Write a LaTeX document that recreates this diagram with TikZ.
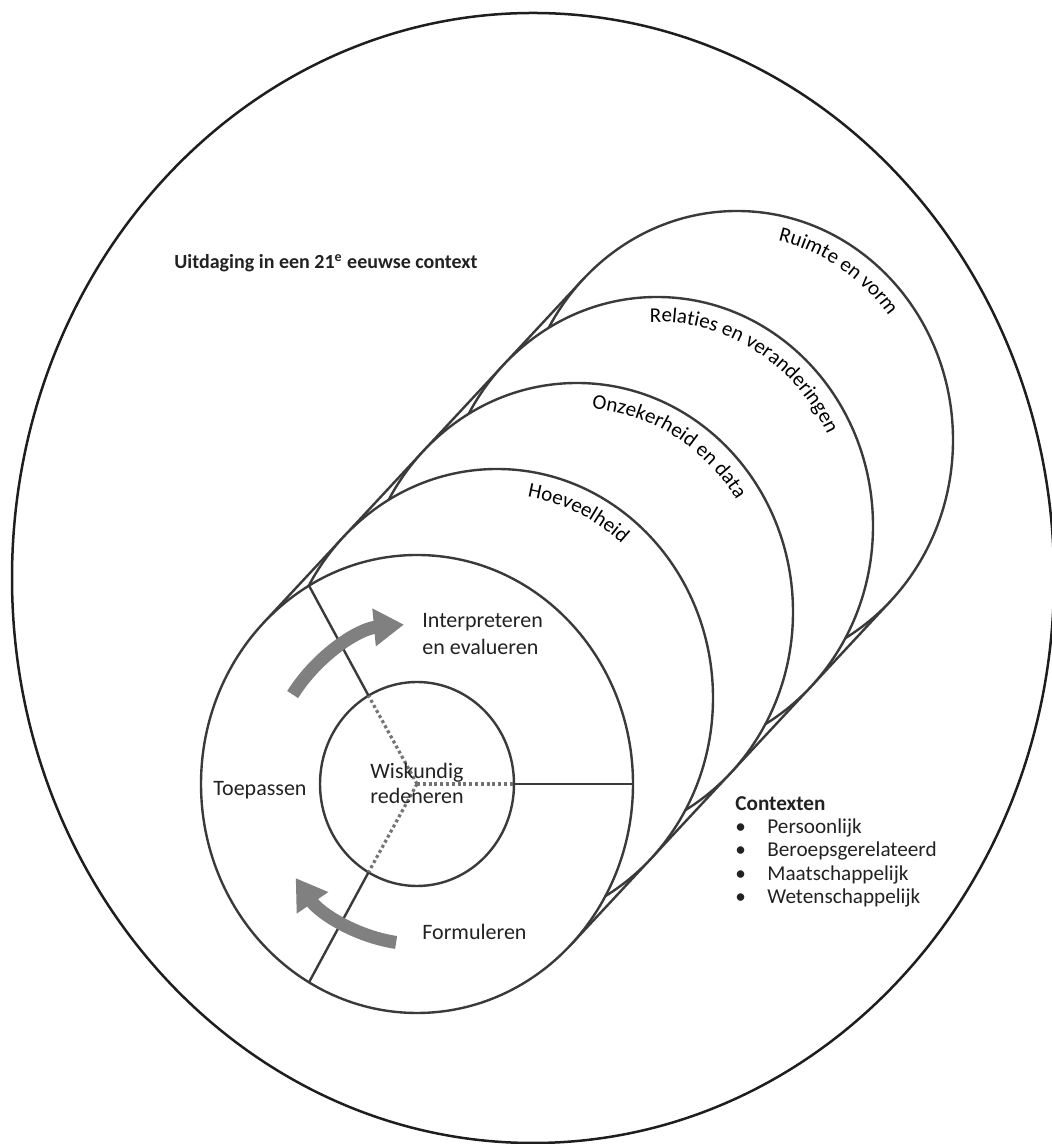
\documentclass[tikz,border=0pt]{standalone}
\usepackage{fontspec}
\setmainfont{Carlito}
\usetikzlibrary{arrows.meta,calc,decorations.text}
\definecolor{rimink}{HTML}{1E1E1E}
\definecolor{ringink}{HTML}{3A3A3A}
\definecolor{cyclegrey}{HTML}{808080}
\definecolor{labelink}{HTML}{222222}
\newcommand\curvefont{\fontsize{10.5}{12}\selectfont}
\newcommand\ctxitem{\makebox[16pt][l]{\textbullet}}

\begin{document}
\begin{tikzpicture}[x=0.5pt,y=0.5pt,
  rim/.style={draw=rimink,line width=1.25pt},
  disc/.style={draw=ringink,line width=1.2pt,fill=white},
  spoke/.style={draw=ringink,line width=1.2pt},
  guide/.style={draw=cyclegrey!90!black,line width=1.6pt,dash pattern=on 1.5pt off 1.4pt},
  turnarrow/.style={draw=cyclegrey,line width=6.5pt,-{Triangle[width=18pt,length=15pt]}},
  headline/.style={font=\bfseries\fontsize{10}{12}\selectfont,text=labelink,inner sep=0pt},
  phase/.style={font=\fontsize{11}{13.5}\selectfont,text=labelink,align=left,inner sep=0pt},
  ctx/.style={font=\fontsize{10.6}{11.65}\selectfont,text=labelink,align=left,inner sep=0pt}
]
  \useasboundingbox (0,0) rectangle (1052,1144);

  % outer context
  \draw[rim] (533,566) ellipse[x radius=521,y radius=565];
  \node[headline,anchor=base west] (challenge) at (174,875)
    {Uitdaging in een 21\textsuperscript{e} eeuwse context};

  % stack of content domains
  \foreach \i in {0,...,4}
    \coordinate (disc\i) at (417+80*\i,360+86*\i);
  \draw[spoke] ($(disc0)+(135.4:216 and 229)$) -- ($(disc4)+(135.4:216 and 229)$);
  \draw[spoke] ($(disc0)+(-44.6:216 and 229)$) -- ($(disc4)+(-44.6:216 and 229)$);
  \foreach \i in {4,...,0}
    \draw[disc] (disc\i) ellipse[x radius=216,y radius=229];

  \path[decorate,decoration={text along path,text align=center,
      text={|\curvefont|Hoeveelheid}}]
    ($(disc1)+(82:191 and 204)$) arc[start angle=82,end angle=48,x radius=191,y radius=204];
  \path[decorate,decoration={text along path,text align=center,
      text={|\curvefont|Onzekerheid en data}}]
    ($(disc2)+(87:191 and 204)$) arc[start angle=87,end angle=32,x radius=191,y radius=204];
  \path[decorate,decoration={text along path,text align=center,
      text={|\curvefont|Relaties en veranderingen}}]
    ($(disc3)+(94:191 and 204)$) arc[start angle=94,end angle=25,x radius=191,y radius=204];
  \path[decorate,decoration={text along path,text align=center,
      text={|\curvefont|Ruimte en vorm}}]
    ($(disc4)+(80:191 and 204)$) arc[start angle=80,end angle=35,x radius=191,y radius=204];

  % reasoning core and process sectors
  \draw[spoke] (disc0) ellipse[x radius=97,y radius=102];
  \foreach \a in {0,120,240} {
    \draw[guide] (disc0) -- ($(disc0)+(\a:97 and 102)$);
    \draw[spoke] ($(disc0)+(\a:97 and 102)$) -- ($(disc0)+(\a:216 and 229)$);
  }
  \draw[turnarrow] ($(disc0)+(146:150 and 160)$)
    arc[start angle=146,end angle=95,x radius=150,y radius=160];
  \draw[turnarrow] ($(disc0)+(262:150 and 160)$)
    arc[start angle=262,end angle=216,x radius=150,y radius=160];

  \node[phase,anchor=west] (interpret) at (422,510) {Interpreteren\\en evalueren};
  \node[phase,anchor=west] (apply) at (213,354) {Toepassen};
  \node[phase,font=\fontsize{11}{12.5}\selectfont,anchor=west] (reason) at (370,361)
    {Wiskundig\\redeneren};
  \node[phase,anchor=west] (formulate) at (422,212) {Formuleren};

  % contexts
  \node[ctx,anchor=north west] (contexts) at (735,348)
    {\textbf{Contexten}\\\ctxitem Persoonlijk\\\ctxitem Beroepsgerelateerd\\
     \ctxitem Maatschappelijk\\\ctxitem Wetenschappelijk};
\end{tikzpicture}
\end{document}
